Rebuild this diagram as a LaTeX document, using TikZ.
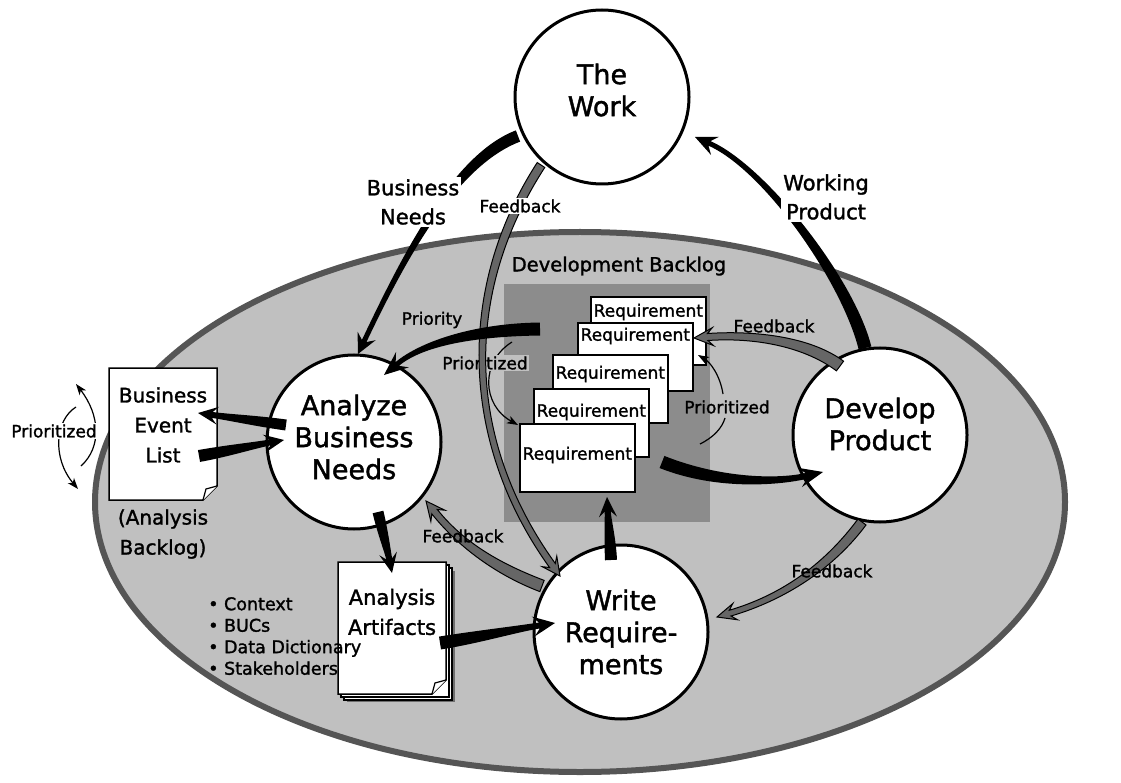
\documentclass[tikz,border=0pt]{standalone}
\usepackage{fontspec}
\setmainfont{DejaVu Sans}[UprightFeatures={FakeBold=1.5}]
\usetikzlibrary{calc,arrows.meta}

\definecolor{ovalfill}{HTML}{C0C0C0}
\definecolor{ovaledge}{HTML}{555555}
\definecolor{backlogfill}{HTML}{8C8C8C}
\definecolor{fbgray}{HTML}{666666}
\definecolor{shadowgray}{HTML}{6E6E6E}

% Tapered arrow drawn as one filled outline.
% #1 style, #2 tail, #3 first control, #4 second control, #5 tip,
% #6 half width at tail, #7 half width where the head starts,
% #8 head length, #9 half width of the head
\newcommand\fatarrow[9]{%
  \coordinate (fa-b) at ($(#5)!#8*0.72!(#4)$);
  \coordinate (fa-h) at ($(#5)!#8!(#4)$);
  \path[#1]
    ($(#2)!#6!90:(#3)$)
    .. controls ($(#3)!#6!-90:(#2)$) and ($(#4)!#7!90:(fa-b)$) ..
    ($(fa-b)!#7!-90:(#4)$)
    -- ($(fa-h)!#9!-90:(#4)$)
    -- (#5)
    -- ($(fa-h)!#9!90:(#4)$)
    -- ($(fa-b)!#7!90:(#4)$)
    .. controls ($(#4)!#7!-90:(fa-b)$) and ($(#3)!#6!90:(#2)$) ..
    ($(#2)!#6!-90:(#3)$)
    -- cycle;
}

\begin{document}
\begin{tikzpicture}[x=1pt,y=-1pt,
  proc/.style={circle, draw=black, line width=3pt, fill=white,
    minimum size=174pt, inner sep=0pt},
  proctxt/.style={align=center, inner sep=0pt, font=\fontsize{27}{32}\selectfont},
  card/.style={draw=black, line width=1.6pt, fill=white,
    minimum width=115pt, minimum height=68pt, inner sep=0pt, anchor=north west},
  cardtxt/.style={font=\fontsize{17}{20}\selectfont, inner sep=0pt},
  doctxt/.style={font=\fontsize{20}{30}\selectfont, align=center, inner sep=0pt},
  lbl/.style={font=\fontsize{17}{20}\selectfont, inner sep=1.5pt},
  biglbl/.style={font=\fontsize{21}{29}\selectfont, align=center, inner sep=2pt},
  page/.style={draw=black, line width=1.5pt, fill=white, line join=miter},
  fatblack/.style={fill=black},
  fatgray/.style={fill=fbgray, draw=black, line width=1pt, line join=miter},
  thinarr/.style={line width=1.2pt, -{Stealth[length=11pt,width=8pt,inset=3pt]}},
]
\useasboundingbox (0,0) rectangle (1121,783);

% project area
\draw[fill=ovalfill, draw=ovaledge, line width=6pt]
  (580,502) ellipse [x radius=485pt, y radius=270pt];

% development backlog
\fill[backlogfill] (504,284) rectangle (710,522);
\node[card] (rq1) at (590,296) {};
\node[cardtxt] (rq1t) at ($(rq1.north)+(0,16)$) {Requirement};
\node[card] (rq2) at (577,322) {};
\node[cardtxt] (rq2t) at ($(rq2.north)+(0,14)$) {Requirement};
\node[card] (rq3) at (552,354) {};
\node[cardtxt] (rq3t) at ($(rq3.north)+(0,20)$) {Requirement};
\node[card] (rq4) at (533,388) {};
\node[cardtxt] (rq4t) at ($(rq4.north)+(0,24)$) {Requirement};
\node[card] (rq5) at (519,423) {};
\node[cardtxt] (rq5t) at ($(rq5.north)+(0,32)$) {Requirement};

% processes
\node[proc] (work) at (602,97) {};
\node[proctxt] (workt) at ($(work)+(0,-7)$) {The\\Work};
\node[proc] (ana) at (354,442) {};
\node[proctxt] (anat) at ($(ana)+(0,-5)$) {Analyze\\Business\\Needs};
\node[proc] (dev) at (880,435) {};
\node[proctxt] (devt) at ($(dev)+(0,-11)$) {Develop\\Product};
\node[proc] (wr) at (621,632) {};
\node[proctxt] (wrt) at ($(wr)+(0,0)$) {Write\\Require-\\ments};

% business event list
\draw[page] (109,368) -- (217,368) -- (217,486) -- (203,500) -- (109,500) -- cycle;
\draw[page, line width=1.2pt] (217,486) -- (206,489) -- (203,500);
\node[doctxt] (bel) at (163,425) {Business\\Event\\List};
\node[doctxt] (belnote) at (163,534) {(Analysis\\Backlog)};

% analysis artifacts
\fill[shadowgray] (347,571) rectangle (455,702);
\draw[page, line width=1.2pt] (344,568) rectangle (452,700);
\draw[page, line width=1.2pt] (341,565) rectangle (449,697);
\draw[page] (338,562) -- (446,562) -- (446,680) -- (432,694) -- (338,694) -- cycle;
\draw[page, line width=1.2pt] (446,680) -- (435,683) -- (432,694);
\node[doctxt, font=\fontsize{21}{30}\selectfont] (art) at (392,612) {Analysis\\Artifacts};

% ordering inside the backlog
\coordinate (pl-s) at (512,342);
\coordinate (pl-e) at (518,425);
\draw[thinarr] (pl-s) .. controls (480,362) and (482,405) .. (pl-e);
\node[lbl, fill=ovalfill, inner sep=1pt] (prio2) at (485,363) {Prioritized};

% endpoints of the connectors
\coordinate (f1-s) at (541,165);  \coordinate (f1-e) at (560,576);
\coordinate (f2-s) at (542,586);  \coordinate (f2-e) at (426,501);
\coordinate (f3-s) at (840,366);  \coordinate (f3-e) at (694,338);
\coordinate (f4-s) at (862,522);  \coordinate (f4-e) at (717,617);
\coordinate (bn-s) at (518,136);  \coordinate (bn-e) at (358,354);
\coordinate (wp-s) at (865,348);  \coordinate (wp-e) at (695,137);
\coordinate (pr-s) at (540,329);  \coordinate (pr-e) at (384,375);
\coordinate (ab-s) at (286,425);  \coordinate (ab-e) at (198,413);
\coordinate (ba-s) at (199,456);  \coordinate (ba-e) at (284,440);
\coordinate (aa-s) at (378,512);  \coordinate (aa-e) at (392,573);
\coordinate (aw-s) at (440,643);  \coordinate (aw-e) at (555,623);
\coordinate (wb-s) at (611,560);  \coordinate (wb-e) at (607,497);
\coordinate (bd-s) at (662,462);  \coordinate (bd-e) at (823,472);

% feedback flows
\fatarrow{fatgray}{f1-s}{460,290}{462,440}{f1-e}{4.5pt}{3.5pt}{18pt}{9pt}
\fatarrow{fatgray}{f2-s}{500,570}{462,546}{f2-e}{6pt}{3.5pt}{19pt}{9pt}
\fatarrow{fatgray}{f3-s}{805,340}{750,334}{f3-e}{6pt}{3.5pt}{19pt}{9pt}
\fatarrow{fatgray}{f4-s}{830,565}{785,597}{f4-e}{5pt}{3pt}{19pt}{8.5pt}

% main flows
\fatarrow{fatblack}{bn-s}{455,160}{405,255}{bn-e}{6pt}{2.5pt}{20pt}{10pt}
\fatarrow{fatblack}{wp-s}{848,280}{765,168}{wp-e}{6.5pt}{2.5pt}{22pt}{10pt}
\fatarrow{fatblack}{pr-s}{470,330}{420,345}{pr-e}{6.5pt}{2.5pt}{24pt}{10pt}
\fatarrow{fatblack}{ab-s}{257,421}{227,417}{ab-e}{5.5pt}{3pt}{20pt}{9pt}
\fatarrow{fatblack}{ba-s}{227,451}{256,445}{ba-e}{6pt}{3pt}{20pt}{9pt}
\fatarrow{fatblack}{aa-s}{383,533}{388,553}{aa-e}{5.5pt}{3pt}{20pt}{9pt}
\fatarrow{fatblack}{aw-s}{478,637}{517,629}{aw-e}{6.5pt}{3pt}{22pt}{10pt}
\fatarrow{fatblack}{wb-s}{610,539}{608,518}{wb-e}{6pt}{3pt}{20pt}{9pt}
\fatarrow{fatblack}{bd-s}{720,485}{780,482}{bd-e}{6.5pt}{3pt}{24pt}{10pt}

% reordering of the event list
\coordinate (pa-s) at (81,466);  \coordinate (pa-e) at (76,384);
\coordinate (pb-s) at (76,407);  \coordinate (pb-e) at (78,489);
\draw[thinarr] (pa-s) .. controls (102,447) and (100,415) .. (pa-e);
\draw[thinarr] (pb-s) .. controls (55,420) and (52,458) .. (pb-e);
\node[lbl, fill=white, inner sep=1pt] (prio1) at (54,431) {Prioritized};

% reordering of the development backlog
\coordinate (pc-s) at (700,444);  \coordinate (pc-m) at (725,418);
\coordinate (pc-n) at (723,394);  \coordinate (pc-e) at (698,355);
\draw[line width=1.2pt] (pc-s) .. controls (714,437) and (722,428) .. (pc-m);
\draw[thinarr] (pc-n) .. controls (720,375) and (710,362) .. (pc-e);
\node[lbl] (prio3) at (727,407) {Prioritized};

% labels
\node[biglbl, fill=white] (bnlbl) at (413,202) {Business\\Needs};
\node[biglbl, fill=white] (wplbl) at (826,197) {Working\\Product};
\node[lbl, fill=white] (fb1) at (520,206) {Feedback};
\node[font=\fontsize{19.5}{22}\selectfont, inner sep=0pt] (dblbl) at (619,266) {Development Backlog};
\node[lbl] (prlbl) at (432,320) {Priority};
\node[lbl] (fb2) at (463,536) {Feedback};
\node[lbl] (fb3) at (774,326) {Feedback};
\node[lbl] (fb4) at (832,571) {Feedback};

% contents of the artifacts
\node[anchor=north west, align=left, inner sep=0pt,
  font=\fontsize{17.5}{21.5}\selectfont] (artlist) at (208,597)
  {•~Context\\•~BUCs\\•~Data Dictionary\\•~Stakeholders};
\end{tikzpicture}
\end{document}
